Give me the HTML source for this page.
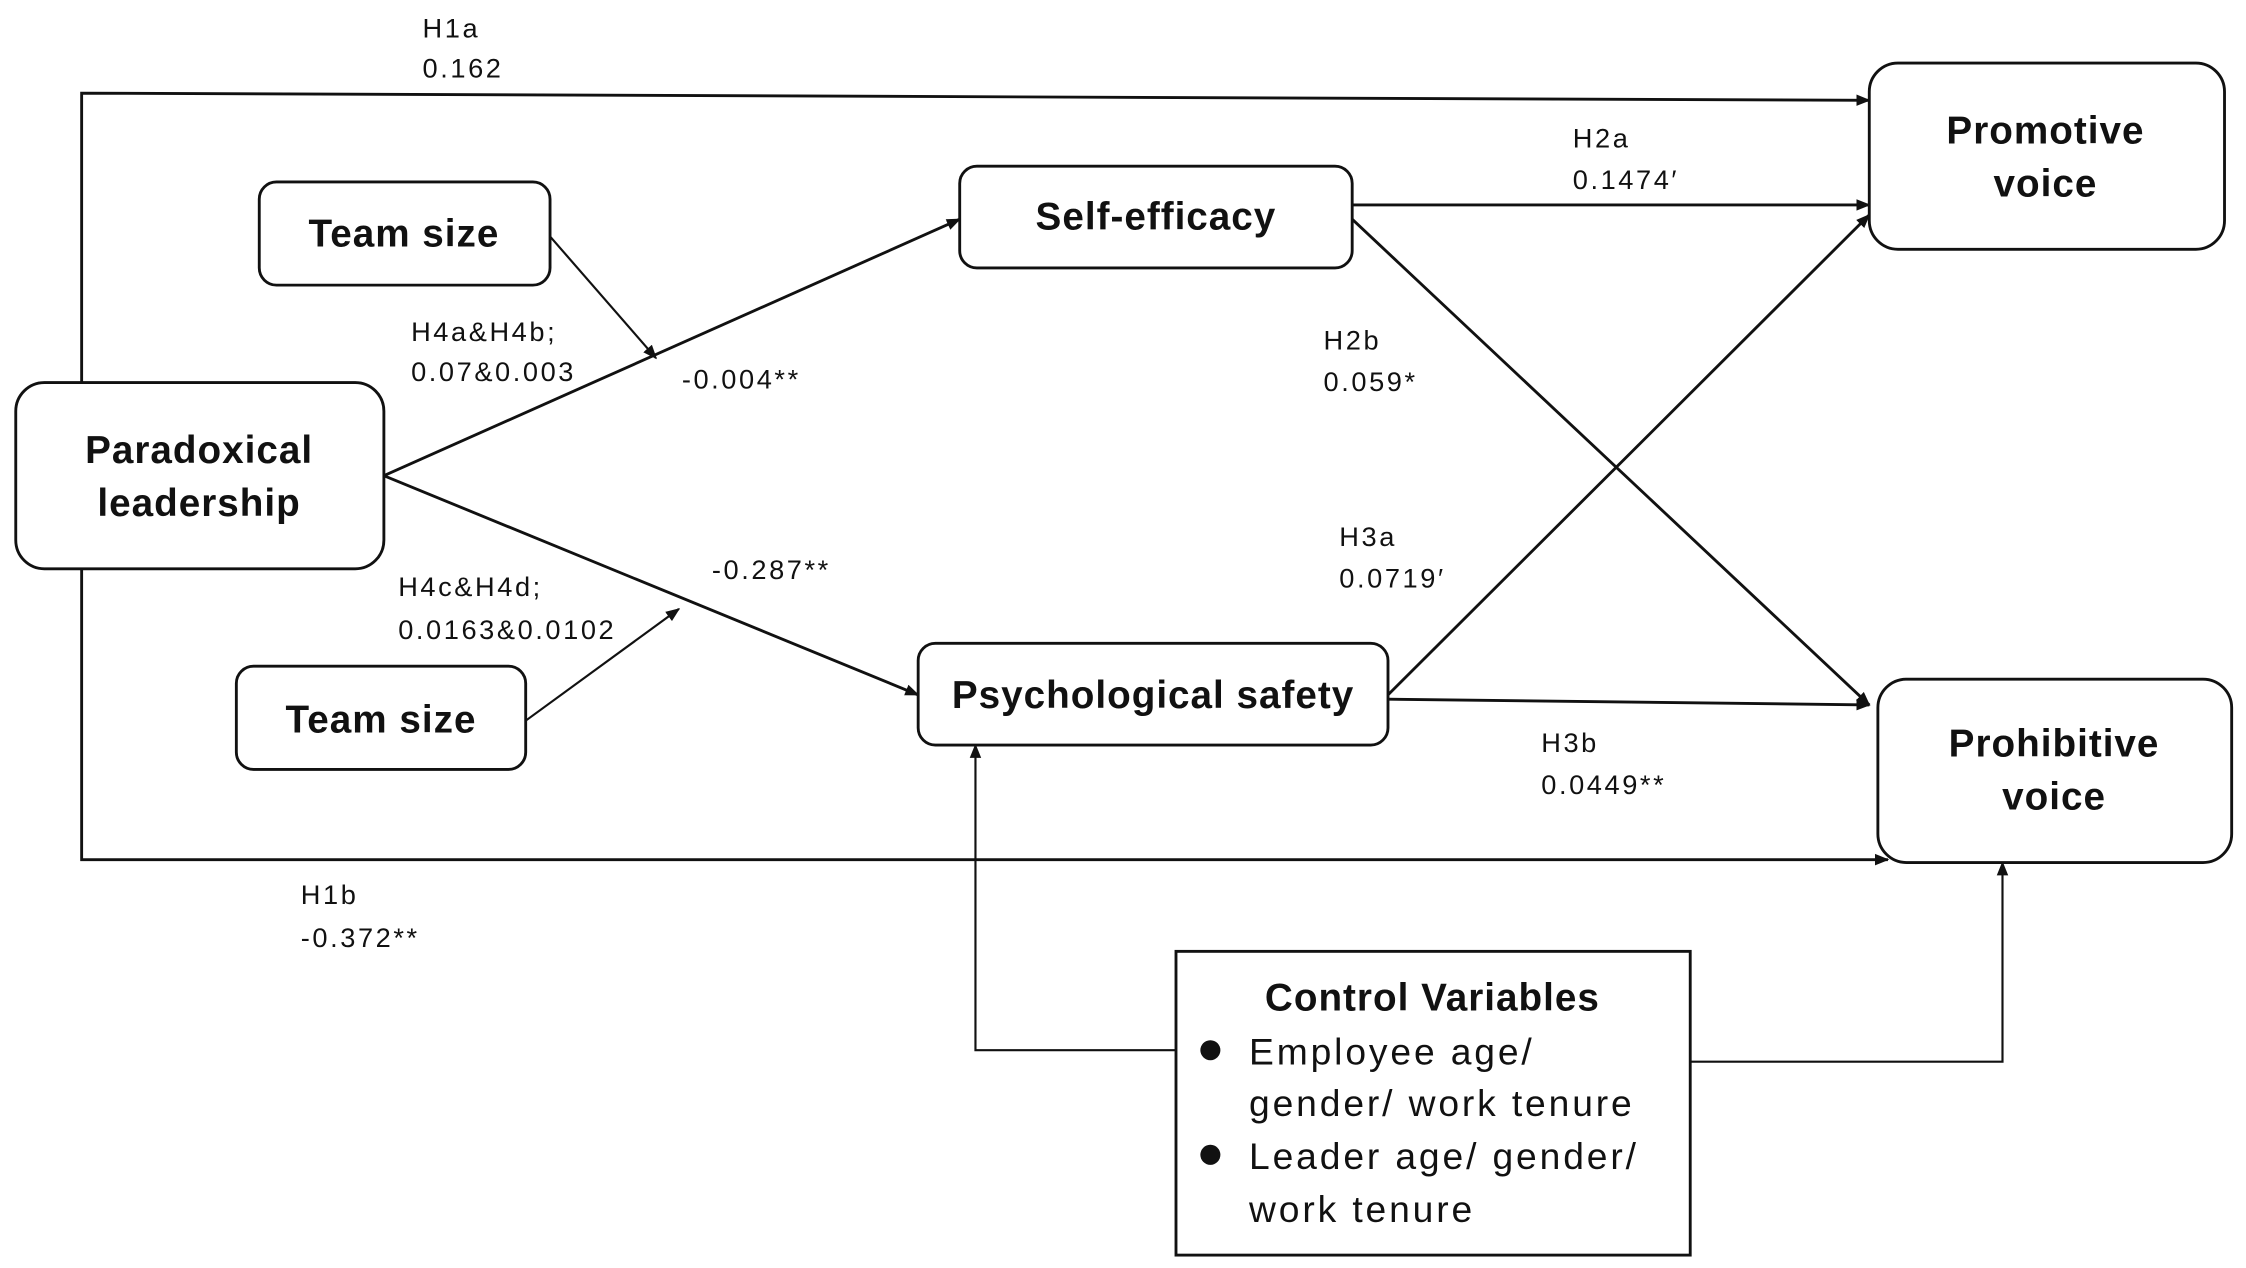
<!DOCTYPE html>
<html><head><meta charset="utf-8"><style>
html,body{margin:0;padding:0;background:#fff;}
svg{display:block;}
text{font-family:"Liberation Sans",sans-serif;fill:#111;}
.b{font-weight:bold;font-size:27px;letter-spacing:0.7px;}
.s{font-size:19px;letter-spacing:1.8px;}
.c{font-size:26px;letter-spacing:2px;}
</style></head><body>
<svg width="2246" height="1268" viewBox="0 0 1568 885" preserveAspectRatio="none" xmlns="http://www.w3.org/2000/svg">
<defs><marker id="a" markerWidth="10" markerHeight="10" refX="9" refY="5" orient="auto" markerUnits="userSpaceOnUse"><path d="M0,1 L10,5 L0,9 z" fill="#111"/></marker></defs>
<g stroke="#111" stroke-width="2" fill="none">
<polyline points="57,268 57,65 1305,70" marker-end="url(#a)"/>
<polyline points="57,397 57,600 1318,600" marker-end="url(#a)"/>
<line x1="268" y1="332" x2="670" y2="153" marker-end="url(#a)"/>
<line x1="268" y1="332" x2="641" y2="485" marker-end="url(#a)"/>
<line x1="384" y1="165" x2="458" y2="250" stroke-width="1.5" marker-end="url(#a)"/>
<line x1="367" y1="503" x2="474" y2="425" stroke-width="1.5" marker-end="url(#a)"/>
<line x1="944" y1="143" x2="1305" y2="143" marker-end="url(#a)"/>
<line x1="944" y1="153" x2="1305" y2="492" marker-end="url(#a)"/>
<line x1="969" y1="485" x2="1305" y2="150" marker-end="url(#a)"/>
<line x1="969" y1="488" x2="1305" y2="492" marker-end="url(#a)"/>
<polyline points="821,733 681,733 681,520" stroke-width="1.5" marker-end="url(#a)"/>
<polyline points="1180,741 1398,741 1398,602" stroke-width="1.5" marker-end="url(#a)"/>
</g>
<g stroke="#111" stroke-width="2" fill="#fff">
<rect x="181" y="127" width="203" height="72" rx="12"/>
<rect x="670" y="116" width="274" height="71" rx="12"/>
<rect x="1305" y="44" width="248" height="130" rx="20"/>
<rect x="11" y="267" width="257" height="130" rx="20"/>
<rect x="165" y="465" width="202" height="72" rx="12"/>
<rect x="641" y="449" width="328" height="71" rx="12"/>
<rect x="1311" y="474" width="247" height="128" rx="20"/>
<rect x="821" y="664" width="359" height="212"/>
</g>
<g class="b" text-anchor="middle" dominant-baseline="middle">
<text x="282" y="165">Team size</text>
<text x="807" y="153">Self-efficacy</text>
<text x="1428" y="93">Promotive</text>
<text x="1428" y="130">voice</text>
<text x="139" y="316">Paradoxical</text>
<text x="139" y="353">leadership</text>
<text x="266" y="504">Team size</text>
<text x="805" y="487">Psychological safety</text>
<text x="1434" y="521">Prohibitive</text>
<text x="1434" y="558">voice</text>
<text x="1000" y="698">Control Variables</text>
</g>
<g class="s" dominant-baseline="middle">
<text x="295" y="21">H1a</text><text x="295" y="49">0.162</text>
<text x="287" y="233">H4a&amp;H4b;</text><text x="287" y="261">0.07&amp;0.003</text>
<text x="476" y="266">-0.004**</text>
<text x="1098" y="98">H2a</text><text x="1098" y="127">0.1474′</text>
<text x="924" y="239">H2b</text><text x="924" y="268">0.059*</text>
<text x="497" y="399">-0.287**</text>
<text x="278" y="411">H4c&amp;H4d;</text><text x="278" y="441">0.0163&amp;0.0102</text>
<text x="935" y="376">H3a</text><text x="935" y="405">0.0719′</text>
<text x="1076" y="520">H3b</text><text x="1076" y="549">0.0449**</text>
<text x="210" y="626">H1b</text><text x="210" y="656">-0.372**</text>
</g>
<circle cx="845" cy="733" r="7" fill="#111"/>
<circle cx="845" cy="806" r="7" fill="#111"/>
<g class="c" dominant-baseline="middle">
<text x="872" y="736">Employee age/</text>
<text x="872" y="772">gender/ work tenure</text>
<text x="872" y="809">Leader age/ gender/</text>
<text x="872" y="846">work tenure</text>
</g>
</svg>
</body></html>
